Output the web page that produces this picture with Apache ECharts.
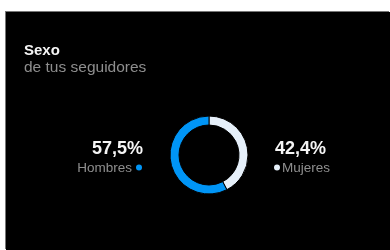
<!DOCTYPE html>
<html>
<head>
<meta charset="utf-8">
<script src="https://cdn.jsdelivr.net/npm/echarts@6/dist/echarts.min.js"></script>
<style>
  html, body { margin: 0; padding: 0; background: #fff; }
  #chart {
    position: absolute; left: 6px; top: 12px;
    width: 384px; height: 238px;
    background: #000;
    box-shadow: -1px -1px 0 #777;
  }
</style>
</head>
<body>
<div id="chart"></div>
<script>
// datos
const title = 'Sexo'
const subtitle = 'de tus seguidores'
const categories = ['Mujeres', 'Hombres']
const values = [42.4, 57.5]
const colors = ['#e6f0fa', '#0095f6']

const fmt = (v) => v.toFixed(1).replace('.', ',') + '%'

const chart = echarts.init(document.getElementById('chart'))
const font = '"Liberation Sans", Arial, sans-serif'

chart.setOption({
    animation: false,
    backgroundColor: '#000',
    graphic: [
        { type: 'text', left: 18, top: 31, style: { text: title, fill: '#f5f5f5', font: 'bold 15px ' + font } },
        { type: 'text', left: 18, top: 48, style: { text: subtitle, fill: '#8e8e8e', font: '15.5px ' + font } },
        // Hombres (izquierda)
        { type: 'text', x: 137, y: 146.5, style: { text: fmt(values[1]), fill: '#f5f5f5', font: 'bold 18px ' + font, align: 'right', verticalAlign: 'bottom' } },
        { type: 'text', x: 126, y: 163, style: { text: categories[1], fill: '#8e8e8e', font: '13.5px ' + font, align: 'right', verticalAlign: 'bottom' } },
        { type: 'circle', shape: { cx: 133, cy: 155.5, r: 3 }, style: { fill: colors[1] } },
        // Mujeres (derecha)
        { type: 'text', x: 269, y: 146.5, style: { text: fmt(values[0]), fill: '#f5f5f5', font: 'bold 18px ' + font, align: 'left', verticalAlign: 'bottom' } },
        { type: 'text', x: 276, y: 163, style: { text: categories[0], fill: '#8e8e8e', font: '13.5px ' + font, align: 'left', verticalAlign: 'bottom' } },
        { type: 'circle', shape: { cx: 271, cy: 155.5, r: 3 }, style: { fill: colors[0] } }
    ],
    series: [{
        type: 'pie',
        center: [203, 143],
        radius: [30, 39],
        startAngle: 90,
        clockwise: true,
        label: { show: false },
        labelLine: { show: false },
        emphasis: { disabled: true },
        itemStyle: { borderColor: '#000', borderWidth: 1 },
        data: categories.map((c, i) => ({ name: c, value: values[i], itemStyle: { color: colors[i] } }))
    }]
})
</script>
</body>
</html>
